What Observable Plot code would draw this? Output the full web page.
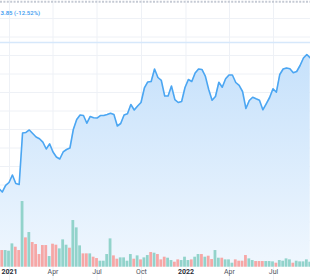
<!DOCTYPE html>
<html><head><meta charset="utf-8">
<script src="https://cdn.jsdelivr.net/npm/d3@7"></script>
<script src="https://cdn.jsdelivr.net/npm/@observablehq/plot@0.6"></script>
<style>
html,body{margin:0;padding:0;background:#fff;}
#wrap{position:relative;width:310px;height:280px;overflow:hidden;}
#wrap svg{position:absolute;left:0;top:0;}
</style></head><body><div id="wrap"></div>
<script>
// weekly series (first point is one week before the visible window)
const firstWeek = new Date(Date.UTC(2020, 11, 10));
const prices = [116.2,112.4,119.5,122.7,130.8,121.6,120.5,176.2,176.8,179.5,175.7,171.9,170.0,166.3,158.9,164.5,155.7,150.3,148.1,155.7,158.4,160.0,180.0,190.8,195.7,195.1,186.8,194.1,192.7,192.4,195.1,195.1,196.2,197.6,196.2,183.8,186.5,195.7,197.0,207.0,201.1,205.4,209.2,224.9,231.4,231.9,245.4,236.2,233.0,216.2,216.2,227.0,212.4,209.2,210.3,225.4,234.1,231.9,241.1,245.4,244.9,237.8,223.2,211.7,215.7,231.1,225.7,234.8,238.9,238.9,230.8,227.6,221.1,202.7,211.4,214.9,213.2,211.7,201.3,207.8,214.6,224.0,220.3,239.5,245.4,246.5,245.6,241.3,242.7,249.2,257.3,261.1,257.3];
const volumes = [4.6,5.0,5.0,4.8,7.0,6.0,5.0,19.7,8.8,10.4,7.4,6.8,3.8,6.5,6.5,3.2,6.9,6.6,5.5,8.2,6.6,5.7,14.0,11.8,6.4,4.0,4.0,4.0,3.0,2.6,1.8,1.8,3.8,8.5,3.4,2.4,2.8,2.8,1.8,3.8,2.4,3.4,2.2,2.8,3.5,4.4,4.2,3.8,2.2,3.0,2.7,2.0,1.5,2.2,2.0,3.0,2.0,2.2,3.0,3.8,3.8,3.0,3.3,2.3,5.0,2.7,2.7,2.2,2.2,1.2,2.2,1.8,1.8,3.5,2.5,2.0,1.7,1.7,1.7,1.7,1.7,1.6,1.2,2.0,1.8,2.5,2.2,1.2,1.8,1.6,1.6,2.2,1.5];
const directions = ("D" + "DUUUDDUDUD" + "DDDDUDDUUU" + "DUUUDDUDDU" + "UUUDDUUUUD" + "UDUUDU" +
  "DDDUUDDUUU" + "DUUDUDDUUD" + "UUUDDDDUUD" + "DDUUUDUUUU" + "DUUUUU").split("");
const tickDates = ["2021-01-01","2021-04-01","2021-07-01","2021-10-01","2022-01-01","2022-04-01","2022-07-01"].map(s => new Date(s + "T00:00:00Z"));
const tickLabels = ["2021","Apr","Jul","Oct","2022","Apr","Jul"];
const headerText = "3.85 (-12.52%)";
const referencePrice = 274.1;
const gridPrices = d3.range(40, 301, 20);
const priceDomain = [16.76, 319.46];
const areaBase = 31;
const xDomain = [new Date(Date.UTC(2020, 11, 13, 9)), new Date(Date.UTC(2022, 8, 15, 13))];

const data = prices.map((p, i) => ({
  date: d3.utcDay.offset(firstWeek, 7 * i),
  price: p,
  volume: volumes[i],
  up: directions[i] === "U"
}));
const ticks = tickDates.map((d, i) => ({date: d, label: tickLabels[i], year: /^\d/.test(tickLabels[i])}));

const font = "Roboto, 'Liberation Sans', sans-serif";

const gradientDefs = () => {
  const defs = document.createElementNS("http://www.w3.org/2000/svg", "defs");
  defs.innerHTML = '<linearGradient id="areaGrad" x1="0" y1="0" x2="0" y2="1">' +
    '<stop offset="0" stop-color="#c6e1fb"/><stop offset="1" stop-color="#f0f7fe"/></linearGradient>';
  return defs;
};

const pricePlot = Plot.plot({
  width: 310, height: 280, margin: 0,
  style: {fontFamily: font, background: "#fff"},
  x: {type: "utc", domain: xDomain, axis: null},
  y: {domain: priceDomain, axis: null},
  marks: [
    gradientDefs,
    Plot.ruleY(gridPrices, {stroke: "#eef1f6", strokeWidth: 1}),
    Plot.ruleX(tickDates, {stroke: "#eef1f6", strokeWidth: 1}),
    Plot.areaY(data, {x: "date", y1: areaBase, y2: "price", fill: "url(#areaGrad)", curve: "linear"}),
    Plot.ruleY([referencePrice], {stroke: "#d6e8fb", strokeWidth: 1.6}),
    Plot.lineY(data, {x: "date", y: "price", stroke: "#4ba6f2", strokeWidth: 1.6, curve: "linear"}),
    Plot.ruleY([priceDomain[1]], {dy: 1.2, stroke: "#c5cad4", strokeWidth: 2, strokeDasharray: "2,1.4"}),
    Plot.text([headerText], {text: d => d, frameAnchor: "top-left", textAnchor: "start", dy: 10, dx: 0,
      fill: "#3e9cf0", fontSize: 6, fontWeight: 600})
  ]
});

const volumePlot = Plot.plot({
  width: 310, height: 280, marginTop: 0, marginLeft: 0, marginRight: 0, marginBottom: 13.3,
  style: {fontFamily: font, background: "transparent"},
  x: {type: "utc", domain: xDomain, axis: null},
  y: {domain: [0, 80], axis: null},
  color: {type: "identity"},
  marks: [
    Plot.rectY(data, {
      x1: d => d3.utcHour.offset(d.date, -84),
      x2: d => d3.utcHour.offset(d.date, 84),
      y: "volume",
      fill: d => d.up ? "#92d3cb" : "#f6a7a6",
      insetLeft: 0.3, insetRight: 0.3
    }),
    Plot.text(ticks.filter(t => t.year), {
      x: "date", text: "label", frameAnchor: "bottom", dy: 6.6,
      fontSize: 7, fontWeight: 700, fill: "#2a2e39"
    }),
    Plot.text(ticks.filter(t => !t.year), {
      x: "date", text: "label", frameAnchor: "bottom", dy: 6.6,
      fontSize: 7, fontWeight: 400, fill: "#50535e"
    })
  ]
});

const wrap = document.getElementById("wrap");
wrap.appendChild(pricePlot);
wrap.appendChild(volumePlot);
</script>
</body></html>
